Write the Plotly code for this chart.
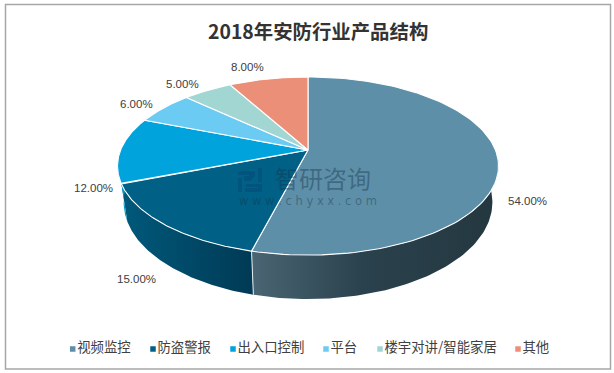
import numpy as np
import plotly.graph_objects as go

TITLE = "2018年安防行业产品结构"
CATEGORIES = ["视频监控", "防盗警报", "出入口控制", "平台", "楼宇对讲/智能家居", "其他"]
VALUES = [54, 15, 12, 6, 5, 8]
LABELS = ["54.00%", "15.00%", "12.00%", "6.00%", "5.00%", "8.00%"]
COLORS = ["#5D8FA8", "#006085", "#00A3DC", "#6CCBF3", "#A2D6D2", "#EB8F78"]

# page geometry (pixels)
W, H = 614, 373
CX, CY, A, B, K = 308.0, 150.0, 187.4, 86.2, 0.18
WALL_SX, WALL_SY, WALL_D = 0.968, 1.085, 35.0
LABEL_XY = [(527, 201), (136, 279), (93, 188), (136, 104), (182, 84), (247, 67)]
SWATCH_X = [72.7, 153, 233, 326, 380, 518]
LEGEND_Y = 349
FONT = "Noto Sans CJK SC, Noto Sans, sans-serif"


def top(deg):
    t = np.radians(deg)
    u, v = np.sin(t), np.cos(t)
    w = 1 + K * v
    return CX + A * u / w, CY - B * v / w


def bottom(deg):
    x, y = top(deg)
    return CX + (x - CX) * WALL_SX, CY + WALL_D + (y - CY) * WALL_SY


edges = np.concatenate([[0], np.cumsum(VALUES)]) * 3.6
fig = go.Figure()

# side walls
WALLS = {
    0: (edges[0] + 90, edges[1], [[0, "#4A6573"], [0.45, "#2A424D"], [1, "#24373F"]]),
    1: (edges[1], edges[2], [[0, "#00597B"], [1, "#003A55"]]),
    2: (edges[2], 270.0, [[0, "#00A3DC"], [1, "#0090C4"]]),
}
for i, (a0, a1, scale) in WALLS.items():
    d = np.linspace(a0, a1, 90)
    xt, yt = top(d)
    xb, yb = bottom(d[::-1])
    fig.add_trace(go.Scatter(
        x=np.r_[xt, xb], y=np.r_[yt, yb], mode="lines", fill="toself",
        line=dict(width=0), fillgradient=dict(type="horizontal", colorscale=scale),
        hoverinfo="skip", showlegend=False))

# wall seam between the first two slices
for e in [edges[1]]:
    xs, ys = zip(top(e), bottom(e))
    fig.add_trace(go.Scatter(x=xs, y=ys, mode="lines", line=dict(color="#E8EEF1", width=1),
                             hoverinfo="skip", showlegend=False))

# top faces
for i, name in enumerate(CATEGORIES):
    d = np.linspace(edges[i], edges[i + 1], 120)
    xr, yr = top(d)
    fig.add_trace(go.Scatter(
        x=np.r_[CX, xr, CX], y=np.r_[CY, yr, CY], mode="lines", fill="toself",
        fillcolor=COLORS[i], line=dict(color="white", width=1.1), name=name,
        showlegend=False, hovertemplate=name + ": " + LABELS[i] + "<extra></extra>"))

# legend row
fig.add_trace(go.Scatter(
    x=SWATCH_X, y=[LEGEND_Y] * len(SWATCH_X), mode="markers+text",
    marker=dict(symbol="square", size=5.5, color=COLORS),
    text=CATEGORIES, textposition="middle right",
    textfont=dict(family=FONT, size=13.4, color="#404040"),
    hoverinfo="skip", showlegend=False))

anns = [dict(x=x, y=y, text=t, showarrow=False, xref="x", yref="y",
             font=dict(family="Liberation Sans, Noto Sans", size=11.5, color="#404040"))
        for (x, y), t in zip(LABEL_XY, LABELS)]
anns += [
    dict(x=318, y=30, text="<b>" + TITLE + "</b>", showarrow=False, xref="x", yref="y",
         font=dict(family=FONT, size=19.4, color="#333333")),
    dict(x=322.5, y=177, text="智研咨询", showarrow=False, xref="x", yref="y",
         font=dict(family=FONT, size=24, color="rgba(20,50,75,0.42)")),
    dict(x=308, y=201, text="w w w . c h y x x . c o m", showarrow=False, xref="x", yref="y",
         font=dict(family="DejaVu Sans", size=11.5, color="rgba(20,50,75,0.42)")),
]

logo = "rgba(0,70,115,0.45)"
S = dict(xref="x", yref="y")
shapes = [
    dict(type="rect", x0=5.5, y0=4.5, x1=610.5, y1=369, line=dict(color="#A6A6A6", width=1.5), layer="below", **S),
    dict(type="path", path="M238,171 L255,171 L255,176 L250,181 L244,181 L244,176 L249,176 L249,175 L238,175 Z",
         fillcolor=logo, line=dict(width=0), **S),
    dict(type="path", path="M238,178 L242,178 L242,192 L238,192 Z", fillcolor=logo, line=dict(width=0), **S),
    dict(type="path", path="M246,184 L262,184 L262,192 L245,192 L245,188 L258,188 L258,187 L246,187 Z",
         fillcolor=logo, line=dict(width=0), **S),
    dict(type="rect", x0=258, y0=168, x1=262, y1=182, fillcolor=logo, line=dict(width=0), **S),
]

fig.update_layout(
    width=W, height=H, margin=dict(l=0, r=0, t=0, b=0), autosize=False,
    paper_bgcolor="white", plot_bgcolor="white", showlegend=False,
    xaxis=dict(range=[0, W], visible=False, fixedrange=True),
    yaxis=dict(range=[H, 0], visible=False, fixedrange=True),
    annotations=anns, shapes=shapes,
)
fig.write_html("out.html", config=dict(displayModeBar=False),
               post_script="document.body.style.margin='0';document.documentElement.style.overflow='hidden';")
